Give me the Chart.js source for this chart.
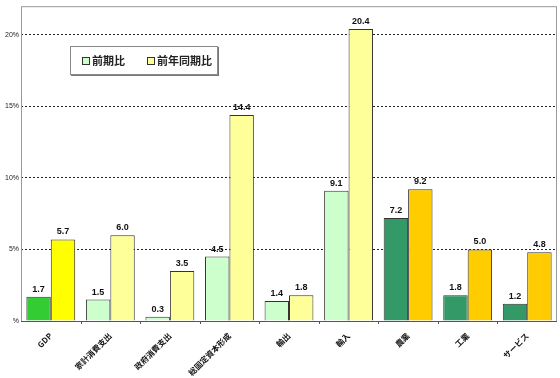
<!DOCTYPE html>
<html lang="ja">
<head>
<meta charset="UTF-8">
<title>前期比・前年同期比</title>
<script src="https://cdn.jsdelivr.net/npm/chart.js"></script>
<style>
  html, body { margin: 0; padding: 0; background: #fff; }
  #wrap { position: relative; width: 560px; height: 378px; }
  #legendBox {
    position: absolute; left: 70px; top: 46px; width: 146px; height: 27px;
    border: 1px solid #8a8a8a; box-shadow: 1px 1px 0 #777; background: #fff;
    font-family: "Noto Sans CJK JP", sans-serif; font-size: 11px; font-weight: bold;
    color: #222; line-height: 27px;
  }
  #legendBox span.sw {
    display: inline-block; width: 6px; height: 6px; border: 1px solid #333;
    margin-right: 2px; vertical-align: 0px;
  }
  #legendBox .item { position: absolute; top: 0; }
</style>
</head>
<body>
<div id="wrap">
  <canvas id="chart" width="560" height="378"></canvas>
  <div id="legendBox">
    <div class="item" style="left:11px"><span class="sw" style="background:#ccffcc"></span>前期比</div>
    <div class="item" style="left:76px"><span class="sw" style="background:#ffff99"></span>前年同期比</div>
  </div>
</div>
<script>
const categories = ["GDP", "家計消費支出", "政府消費支出", "総固定資本形成", "輸出", "輸入", "農業", "工業", "サービス"];
const qoq = [1.7, 1.5, 0.3, 4.5, 1.4, 9.1, 7.2, 1.8, 1.2];
const yoy = [5.7, 6.0, 3.5, 14.4, 1.8, 20.4, 9.2, 5.0, 4.8];
const qoqColors = ["#33cc33", "#ccffcc", "#ccffcc", "#ccffcc", "#ccffcc", "#ccffcc", "#339966", "#339966", "#339966"];
const yoyColors = ["#ffff00", "#ffff99", "#ffff99", "#ffff99", "#ffff99", "#ffff99", "#ffcc00", "#ffcc00", "#ffcc00"];
const yTicks = [0, 5, 10, 15, 20];

// values above bars + plot frame
const labelsPlugin = {
  id: 'barLabels',
  afterDatasetsDraw(chart) {
    const ctx = chart.ctx;
    ctx.save();
    ctx.font = 'bold 9px Arial';
    ctx.fillStyle = '#111';
    ctx.textAlign = 'center';
    ctx.textBaseline = 'bottom';
    chart.data.datasets.forEach((ds, i) => {
      chart.getDatasetMeta(i).data.forEach((bar, j) => {
        ctx.fillText(ds.data[j].toFixed(1), bar.x, bar.y - 3);
      });
    });
    const a = chart.chartArea;
    ctx.strokeStyle = '#999';
    ctx.lineWidth = 1;
    ctx.strokeRect(a.left + 0.5, a.top + 0.5, a.right - a.left - 1, a.bottom - a.top);
    ctx.strokeStyle = '#555';
    ctx.beginPath();
    ctx.moveTo(a.left, a.bottom + 0.5);
    ctx.lineTo(a.right, a.bottom + 0.5);
    // small ticks between categories
    const x = chart.scales.x;
    for (let k = 1; k < categories.length; k++) {
      const px = Math.round((x.getPixelForValue(k - 1) + x.getPixelForValue(k)) / 2) + 0.5;
      ctx.moveTo(px, a.bottom);
      ctx.lineTo(px, a.bottom + 3);
    }
    ctx.stroke();
    ctx.restore();
  }
};

new Chart(document.getElementById('chart'), {
  type: 'bar',
  data: {
    labels: categories,
    datasets: [
      { label: '前期比', data: qoq, backgroundColor: qoqColors, borderColor: '#333', borderWidth: 1 },
      { label: '前年同期比', data: yoy, backgroundColor: yoyColors, borderColor: '#333', borderWidth: 1 }
    ]
  },
  options: {
    responsive: false,
    animation: false,
    layout: { padding: { top: 2, right: 3, left: 0, bottom: 0 } },
    datasets: { bar: { categoryPercentage: 0.82, barPercentage: 1.0 } },
    plugins: { legend: { display: false }, tooltip: { enabled: false } },
    scales: {
      x: {
        grid: { display: false },
        border: { display: false },
        ticks: {
          minRotation: 45, maxRotation: 45, padding: 2,
          color: '#111',
          font: { family: '"Noto Sans CJK JP", sans-serif', size: 8, weight: 'bold' }
        },
        afterFit(scale) { scale.height = 57; }
      },
      y: {
        min: 0, max: 22,
        afterBuildTicks(scale) { scale.ticks = yTicks.map(v => ({ value: v })); },
        grid: {
          color: ctx => ctx.tick && ctx.tick.value === 0 ? 'rgba(0,0,0,0)' : '#222',
          drawTicks: false,
          lineWidth: 1
        },
        border: { display: false, dash: [2, 2] },
        ticks: {
          padding: 2,
          color: '#222',
          font: { family: 'Arial', size: 7 },
          callback: v => v === 0 ? '%' : v + '%'
        },
        afterFit(scale) { scale.width = 21; }
      }
    }
  },
  plugins: [labelsPlugin]
});
</script>
</body>
</html>
